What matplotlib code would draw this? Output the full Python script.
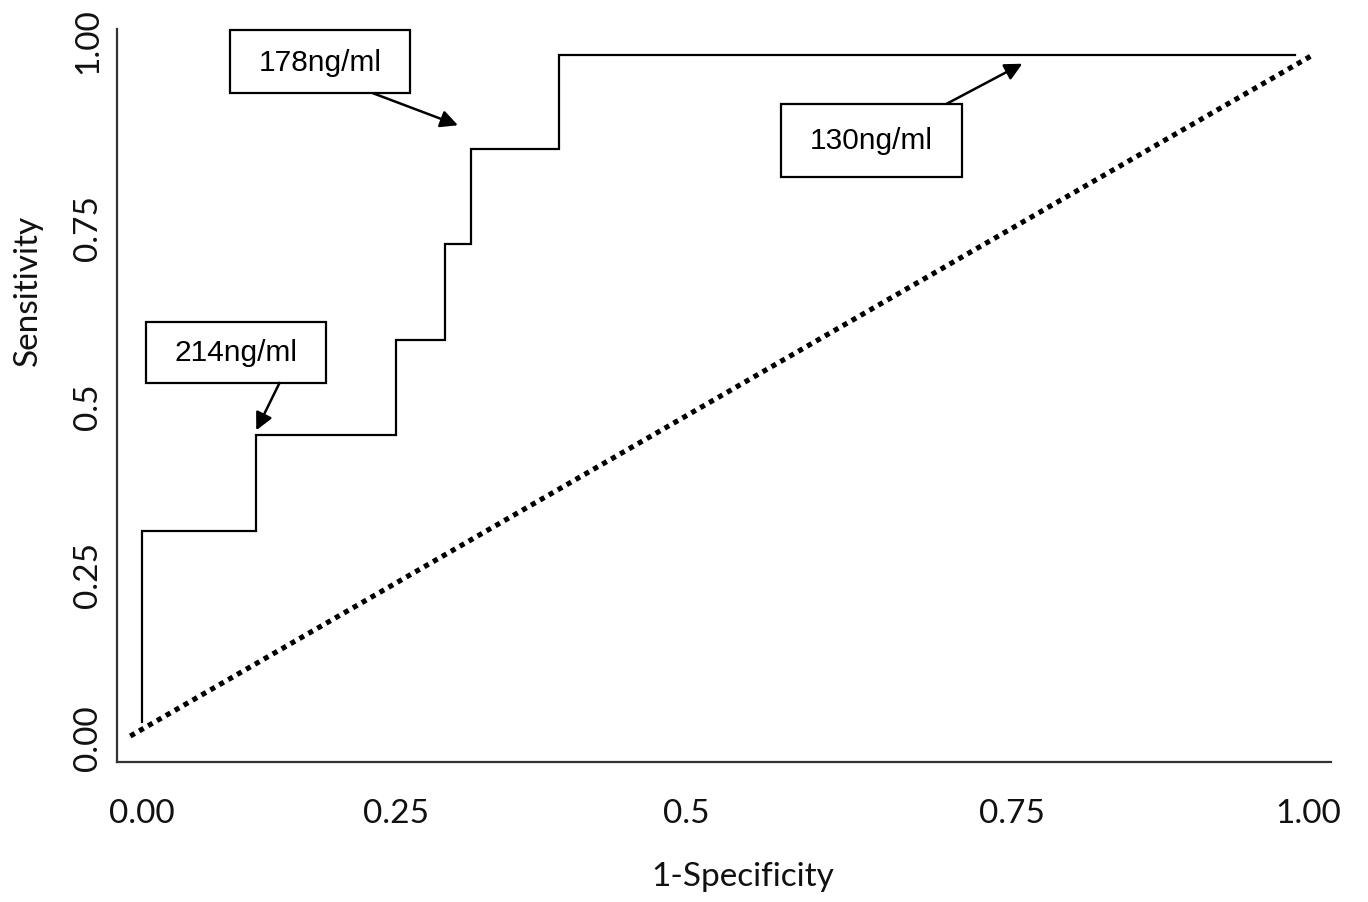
import matplotlib
matplotlib.use('Agg')
import matplotlib.pyplot as plt
from matplotlib.patches import Rectangle

# ROC curve
fpr = [0.0, 0.098, 0.218, 0.260, 0.282, 0.358, 0.989]
tpr = [0.0, 0.286, 0.429, 0.571, 0.714, 0.857, 0.997]

# reference (chance) line as drawn
ref_x = [-0.010, 1.002]
ref_y = [-0.021, 0.995]

# tick labels (as printed in the source figure)
x_tick_labels = ["0.00", "0.25", "0.5", "0.75", "1.00"]
y_tick_labels = ["0.00", "0.25", "0.5", "0.75", "1.00"]

# cut-off annotations
ann_labels = ["178ng/ml", "130ng/ml", "214ng/ml"]

# ---- layout ----
W, H = 1368, 903
fig = plt.figure(figsize=(W / 100, H / 100), dpi=100)
ax_l, ax_r, ax_t, ax_b = 117, 1331, 30, 763
ax = fig.add_axes([ax_l / W, 1 - ax_b / H, (ax_r - ax_l) / W, (ax_b - ax_t) / H])
ax.set_xlim(-0.0214, 1.0197)
ax.set_ylim(-0.0598, 1.0359)

x_tick_pos = [0.0, 0.2178, 0.4666, 0.7461, 1.0]
y_tick_pos = [-0.022, 0.221, 0.472, 0.740, 1.019]

ax.step(fpr, tpr, where='pre', color='black', lw=1.6, solid_joinstyle='miter')
ax.plot(ref_x, ref_y, color='black', lw=3.7, linestyle=(0, (1, 1)),
        dash_capstyle='butt')

for s in ['top', 'right']:
    ax.spines[s].set_visible(False)
for s in ['left', 'bottom']:
    ax.spines[s].set_color('#333333')
    ax.spines[s].set_linewidth(1.6)

tick_font = dict(family='Lato', size=24)
ax.set_xticks(x_tick_pos)
ax.set_xticklabels(x_tick_labels, fontdict=tick_font, color='#111111')
ax.set_yticks(y_tick_pos)
ax.set_yticklabels(y_tick_labels, fontdict=tick_font, rotation=90,
                   va='center', color='#111111')
ax.tick_params(axis='x', length=0, pad=26)
ax.tick_params(axis='y', length=0, pad=10)

fig.text(28 / W, 1 - 290 / H, "Sensitivity", rotation=90, ha='center',
         va='center', family='Lato', size=24, color='#111111')
fig.text(743 / W, 1 - 877 / H, "1-Specificity", ha='center', va='center',
         family='Lato', size=24, color='#111111')

# annotation boxes (data coords): x0, x1, y0, y1 ; arrow tail, arrow tip
boxes = [(0.0755, 0.2298, 0.940, 1.034),
         (0.548, 0.703, 0.815, 0.924),
         (0.0034, 0.158, 0.507, 0.598)]
tails = [(0.198, 0.940), (0.690, 0.924), (0.118, 0.507)]
tips = [(0.271, 0.892), (0.755, 0.984), (0.098, 0.436)]

for lab, (x0, x1, y0, y1), tail, tip in zip(ann_labels, boxes, tails, tips):
    ax.add_patch(Rectangle((x0, y0), x1 - x0, y1 - y0, fill=True,
                           facecolor='white', edgecolor='black', lw=1.6,
                           clip_on=False, zorder=4))
    ax.text((x0 + x1) / 2, (y0 + y1) / 2, lab, ha='center', va='center',
            family='Liberation Sans', size=21.5, zorder=5)
    ax.annotate('', xy=tip, xytext=tail,
                arrowprops=dict(arrowstyle='-|>', color='black', lw=1.8,
                                mutation_scale=26, shrinkA=0, shrinkB=0),
                zorder=5, annotation_clip=False)

fig.savefig('out.png', dpi=100, facecolor='white')
